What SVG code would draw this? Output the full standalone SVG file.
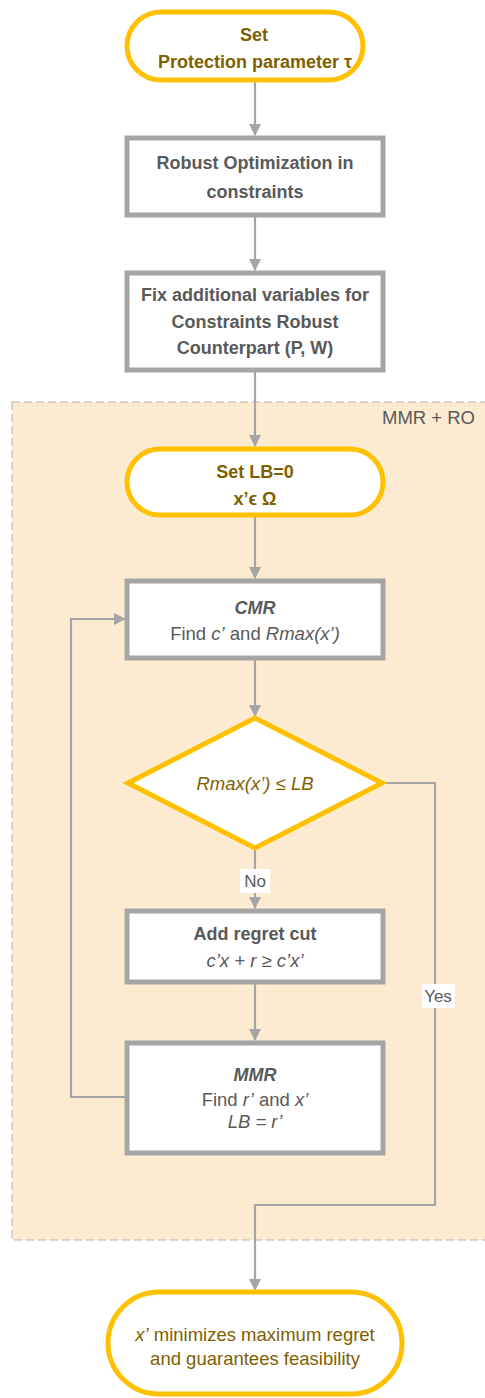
<svg xmlns="http://www.w3.org/2000/svg" width="485" height="1398" viewBox="0 0 485 1398">
<defs>
<style>
.term{fill:#fff;stroke:#FFC000;stroke-width:5}
.box{fill:#fff;stroke:#A5A5A5;stroke-width:5}
.gold{fill:#7F6000;font-family:"Liberation Sans",Arial,sans-serif;font-size:18.5px;text-anchor:middle}
.gray{fill:#595959;font-family:"Liberation Sans",Arial,sans-serif;font-size:18.5px;text-anchor:middle}
.n{font-size:18.5px}
.b{font-weight:bold;font-size:18px}
.i{font-style:italic}
.conn{fill:none;stroke:#A5A5A5;stroke-width:2.2}
.lbl{fill:#595959;font-family:"Liberation Sans",Arial,sans-serif;font-size:17px;text-anchor:middle}
</style>
<marker id="ah" viewBox="0 0 12 12" refX="11" refY="6" markerWidth="12" markerHeight="12" markerUnits="userSpaceOnUse" orient="auto">
<path d="M0,0 L12,6 L0,12 Z" fill="#A5A5A5"/>
</marker>
</defs>
<g id="region">
<rect x="12" y="402" width="480" height="838" fill="#FCEBD0" stroke="#C9C9C9" stroke-width="1.5" stroke-dasharray="8,4"/>
<text x="475" y="424" fill="#595959" font-family="Liberation Sans,Arial,sans-serif" font-size="18.5" text-anchor="end">MMR + RO</text>
</g>
<g id="connectors">
<path class="conn" d="M255,80 V135" marker-end="url(#ah)"/>
<path class="conn" d="M255,215 V270" marker-end="url(#ah)"/>
<path class="conn" d="M255,370 V446" marker-end="url(#ah)"/>
<path class="conn" d="M255,515 V578" marker-end="url(#ah)"/>
<path class="conn" d="M255,658 V716" marker-end="url(#ah)"/>
<path class="conn" d="M255,850 V908" marker-end="url(#ah)"/>
<path class="conn" d="M255,982 V1040" marker-end="url(#ah)"/>
<path class="conn" d="M125,1097 H71 V619 H125" marker-end="url(#ah)"/>
<path class="conn" d="M383,783 H435 V1205 H255 V1290" marker-end="url(#ah)"/>
<rect x="240" y="869" width="30" height="24" fill="#fff"/>
<text class="lbl" x="255" y="887">No</text>
<rect x="422" y="984" width="33" height="24" fill="#fff"/>
<text class="lbl" x="438" y="1002">Yes</text>
</g>
<g id="start">
<rect class="term" x="127" y="12" width="236" height="68" rx="34"/>
<text class="gold b" x="254" y="41">Set</text>
<text class="gold b" x="255" y="68">Protection parameter τ</text>
</g>
<g id="ro">
<rect class="box" x="127" y="138" width="256" height="77"/>
<text class="gray b" x="255" y="169">Robust Optimization in</text>
<text class="gray b" x="255" y="198">constraints</text>
</g>
<g id="fix">
<rect class="box" x="127" y="273" width="256" height="97"/>
<text class="gray b" x="255" y="301">Fix additional variables for</text>
<text class="gray b" x="255" y="328">Constraints Robust</text>
<text class="gray b" x="255" y="354">Counterpart (P, W)</text>
</g>
<g id="setlb">
<rect class="term" x="127" y="449" width="256" height="66" rx="33"/>
<text class="gold b" x="255" y="478">Set LB=0</text>
<text class="gold b" x="255" y="505">x’ϵ Ω</text>
</g>
<g id="cmr">
<rect class="box" x="127" y="581" width="256" height="77"/>
<text class="gray b i" x="255" y="614">CMR</text>
<text class="gray n" x="255" y="640">Find <tspan class="i">c’</tspan> and <tspan class="i">Rmax(x’)</tspan></text>
</g>
<g id="decision">
<path d="M255,718 L382,783 L255,848 L128,783 Z" fill="#fff" stroke="#FFC000" stroke-width="5" stroke-linejoin="miter"/>
<text class="gold i n" x="255" y="790">Rmax(x’) ≤ LB</text>
</g>
<g id="cut">
<rect class="box" x="127" y="911" width="256" height="71"/>
<text class="gray b" x="255" y="940">Add regret cut</text>
<text class="gray i n" x="255" y="967">c’x + r ≥ c’x’</text>
</g>
<g id="mmr">
<rect class="box" x="127" y="1043" width="256" height="110"/>
<text class="gray b i" x="255" y="1081">MMR</text>
<text class="gray n" x="255" y="1106">Find <tspan class="i">r’</tspan> and <tspan class="i">x’</tspan></text>
<text class="gray i n" x="255" y="1128">LB = r’</text>
</g>
<g id="end">
<rect class="term" x="108" y="1292" width="294" height="102" rx="51"/>
<text class="gold n" x="255" y="1341"><tspan class="i">x’</tspan> minimizes maximum regret</text>
<text class="gold n" x="255" y="1365">and guarantees feasibility</text>
</g>
</svg>
